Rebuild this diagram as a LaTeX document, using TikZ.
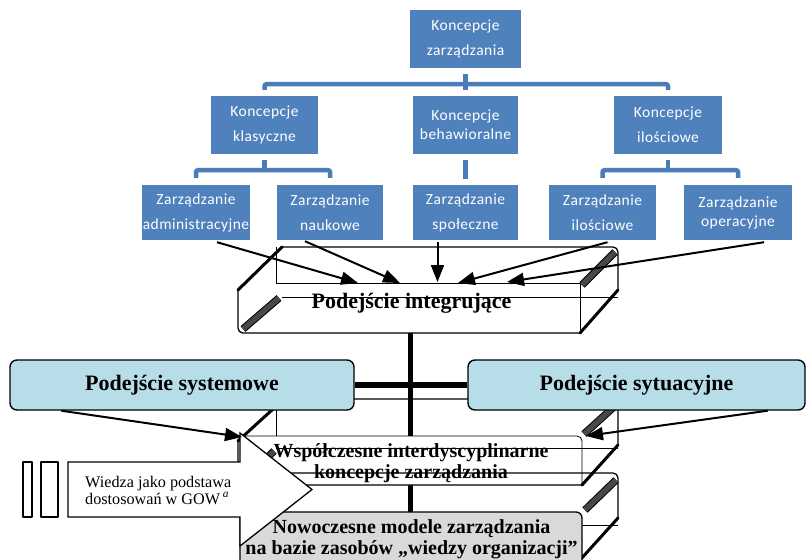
\documentclass[tikz,border=0pt]{standalone}
\usepackage{fontspec}
\setmainfont{Liberation Serif}
\newfontfamily\orgfont[LetterSpace=3]{Carlito}
\usetikzlibrary{arrows.meta,calc}

\definecolor{orgblue}{RGB}{79,129,189}
\definecolor{orgline}{RGB}{74,124,186}
\definecolor{aqua}{RGB}{183,222,232}
\definecolor{facegray}{RGB}{217,217,217}
\definecolor{hatchgray}{RGB}{72,72,72}

\begin{document}
\begin{tikzpicture}[x=1pt,y=-1pt,
  orgbox/.style={fill=orgblue,text=white,align=center,inner sep=0pt,
    font=\orgfont\fontsize{15.5}{25}\selectfont},
  orgtight/.style={font=\orgfont\fontsize{15.5}{19}\selectfont},
  conn/.style={draw=orgline,line width=4.5pt,rounded corners=2pt},
  edge/.style={line width=1.3pt,line join=round},
  thickedge/.style={line width=3pt,line cap=round},
  innerline/.style={line width=0.8pt},
  band/.style={line width=1pt,double=hatchgray,double distance=5.5pt},
  flowarrow/.style={line width=2pt,-{Triangle[length=17pt,width=13pt]}},
  bar/.style={line width=5.5pt},
  aquabox/.style={draw,line width=1.4pt,fill=aqua,rounded corners=7pt,
    minimum height=50pt,inner sep=0pt,font=\fontsize{22}{24}\selectfont\bfseries},
  boldlabel/.style={align=center,inner sep=0pt,font=\fontsize{20}{21}\selectfont\bfseries}
]
\useasboundingbox (0,0) rectangle (807,560);
\fill[white] (0,0) rectangle (807,560);

% ---------- organisation chart ----------
\node[orgbox,minimum width=111pt,minimum height=58pt] (T) at (465.5,39) {Koncepcje\\zarządzania};
\node[orgbox,minimum width=107pt,minimum height=58pt] (K1) at (264.5,125) {Koncepcje\\klasyczne};
\node[orgbox,orgtight,minimum width=105pt,minimum height=58pt] (K2) at (465.5,125) {Koncepcje\\behawioralne};
\node[orgbox,minimum width=108pt,minimum height=58pt] (K3) at (668,125) {Koncepcje\\ilościowe};

\node[orgbox,minimum width=108pt,minimum height=55pt] (Z1) at (196,212.5) {Zarządzanie\\administracyjne};
\node[orgbox,minimum width=106pt,minimum height=55pt] (Z2) at (330,212.5) {Zarządzanie\\naukowe};
\node[orgbox,minimum width=105pt,minimum height=55pt] (Z3) at (465.5,212.5) {Zarządzanie\\społeczne};
\node[orgbox,minimum width=107pt,minimum height=55pt] (Z4) at (602.5,212.5) {Zarządzanie\\ilościowe};
\node[orgbox,orgtight,minimum width=108pt,minimum height=55pt] (Z5) at (738,212.5) {Zarządzanie\\operacyjne};

\draw[conn] ($(T.south)+(0,6)$) -- ($(K2.north)+(0,-6)$);
\draw[conn] ($(K1.north)+(0,-6)$) |- ($(T.south)+(0,16)$) -| ($(K3.north)+(0,-6)$);
\draw[conn] ($(K1.south)+(0,6)$) -- ($(K1.south)+(0,16)$);
\draw[conn] ($(Z1.north)+(0,-7)$) |- ($(K1.south)+(0,16)$) -| ($(Z2.north)+(0,-7)$);
\draw[conn] ($(K2.south)+(0,6)$) -- ($(Z3.north)+(0,-6)$);
\draw[conn] ($(K3.south)+(0,6)$) -- ($(K3.south)+(0,16)$);
\draw[conn] ($(Z4.north)+(0,-7)$) |- ($(K3.south)+(0,16)$) -| ($(Z5.north)+(0,-7)$);

% ---------- slab: integrating approach ----------
\fill[white] (282,247) -- (618,247) -- (618,290) -- (580,333) -- (238,333) -- (238,290) -- cycle;
\draw[edge,rounded corners=5pt] (282,247) -- (618,247) -- (618,290);
\draw[edge,rounded corners=5pt] (580,333) -- (238,333) -- (238,290);
\draw[thickedge] (238,290) -- (282,247);
\draw[thickedge] (618,290) -- (580,333);
\draw[innerline] (276,247) -- (276,283) -- (580,283);
\draw[innerline] (580,283) -- (580,333);
\draw[innerline] (282,297) -- (618,297);
\draw[band] (243,329) -- (279,298);
\draw[band] (582,285) -- (615,252);
\node[anchor=base,inner sep=0pt,font=\fontsize{22}{24}\selectfont\bfseries] (A) at (411.5,308) {Podejście integrujące};

% ---------- central axis ----------
\coordinate (Abot) at (410.5,333);
\coordinate (Ctop) at (410.5,512);
\draw[bar] (Abot) -- (Ctop);

% ---------- slab: interdisciplinary concepts ----------
\fill[white,rounded corners=5pt] (238,436) rectangle (582,485);
\draw[edge,rounded corners=5pt] (282,399) -- (618,399) -- (618,445);
\draw[thickedge] (618,445) -- (582,485);
\draw[edge,rounded corners=5pt] (582,485) -- (238,485) -- (238,441);
\draw[thickedge] (238,441) -- (284,399);
\draw[innerline] (276,399) -- (276,436);
\draw[innerline,rounded corners=5pt] (238,436) -- (582,436) -- (582,485);
\draw[innerline] (276,448) -- (618,448);
\draw[band] (584,434) -- (616,405);
\draw[band] (242,482) -- (274,451);

% ---------- slab: knowledge-based models ----------
\draw[edge,rounded corners=5pt] (282,473) -- (618,473) -- (618,518);
\draw[thickedge] (618,518) -- (580,560);
\draw[thickedge] (240,515) -- (282,473);
\draw[innerline] (582,525) -- (618,525);
\draw[edge,fill=facegray,rounded corners=6pt] (240,575) -- (240,512) -- (582,512) -- (582,575);
\draw[band] (585,510) -- (616,480);

% ---------- side approaches ----------
\node[aquabox,minimum width=344pt] (S1) at (182,385) {Podejście systemowe};
\node[aquabox,minimum width=337pt] (S2) at (636.5,385) {Podejście sytuacyjne};
\draw[bar] (S1.east) -- (S2.west);

\node[boldlabel] (B) at (411,463) {Współczesne interdyscyplinarne\\koncepcje zarządzania};
\node[boldlabel] (C) at (411.5,539) {Nowoczesne modele zarządzania\\na bazie zasobów „wiedzy organizacji”};

% ---------- striped arrow ----------
\draw[edge,fill=white,line join=miter] (68,462) -- (240,462) -- (240,433) -- (312,489.5)
  -- (240,546) -- (240,517) -- (68,517) -- cycle;
\draw[edge,fill=white] (23,462) rectangle (32,517);
\draw[edge,fill=white] (41,462) rectangle (58,517);
\node[anchor=west,align=left,inner sep=0pt,font=\fontsize{16.2}{17}\selectfont] (Wd) at (85,490)
  {Wiedza jako podstawa\\dostosowań w GOW\,\textsuperscript{\itshape a}};

% ---------- arrows into the slabs ----------
\coordinate (a1) at (358,283);
\coordinate (a2) at (400,283);
\coordinate (a3) at (437.5,282);
\coordinate (a4) at (458,283);
\coordinate (a5) at (507,282);
\draw[flowarrow] ($(Z1.south)+(21,2)$) -- (a1);
\draw[flowarrow] ($(Z2.south)+(-25,1)$) -- (a2);
\draw[flowarrow] ($(Z3.south)+(-28,2)$) -- (a3);
\draw[flowarrow] ($(Z4.south)+(5,2)$) -- (a4);
\draw[flowarrow] ($(Z5.south)+(26,2)$) -- (a5);

\coordinate (b1) at (242,437);
\coordinate (b2) at (586,436);
\draw[flowarrow] ($(S1.south west)+(52,0)$) -- (b1);
\draw[flowarrow] ($(S2.south east)+(-38,0)$) -- (b2);
\end{tikzpicture}
\end{document}
